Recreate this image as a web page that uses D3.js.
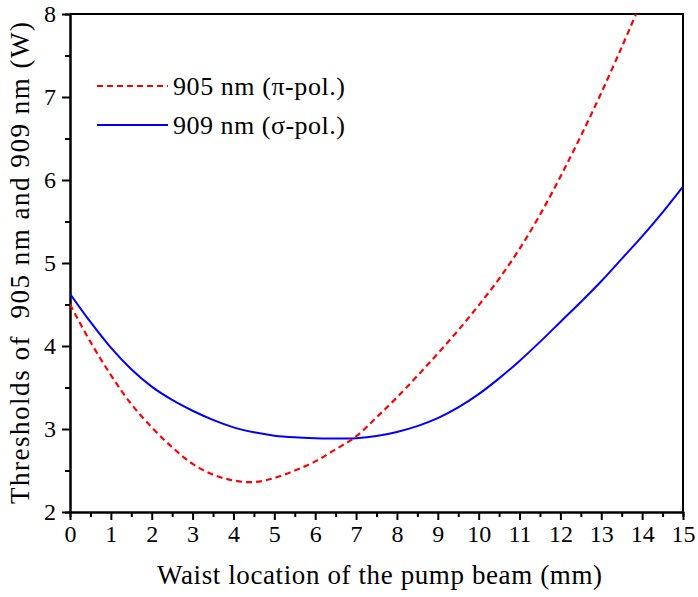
<!DOCTYPE html>
<html>
<head>
<meta charset="utf-8">
<script src="https://cdn.jsdelivr.net/npm/d3@7"></script>
<style>
  body { margin: 0; background: #fff; }
  text { font-family: "Liberation Serif", "Times New Roman", serif; fill: #000; }
</style>
</head>
<body>
<div id="chart"></div>
<script>
// waist location (mm) and thresholds (W)
const x905 = [0, 0.5, 1, 1.5, 2, 2.5, 3, 3.5, 4, 4.5, 5, 5.5, 6, 6.5, 7, 7.5, 8, 8.5, 9, 9.5, 10, 10.5, 11, 11.5, 12, 12.5, 13, 13.5, 13.85];
const y905 = [4.50, 4.05, 3.65, 3.30, 3.02, 2.78, 2.58, 2.45, 2.38, 2.36, 2.41, 2.50, 2.61, 2.755, 2.91, 3.14, 3.38, 3.64, 3.91, 4.19, 4.49, 4.81, 5.17, 5.58, 6.04, 6.53, 7.05, 7.60, 8.0];
const x909 = [0, 0.5, 1, 1.5, 2, 2.5, 3, 3.5, 4, 4.5, 5, 5.5, 6, 6.5, 7, 7.5, 8, 8.5, 9, 9.5, 10, 10.5, 11, 11.5, 12, 12.5, 13, 13.5, 14, 14.5, 15];
const y909 = [4.63, 4.29, 3.98, 3.72, 3.51, 3.35, 3.22, 3.11, 3.02, 2.96, 2.92, 2.90, 2.89, 2.885, 2.89, 2.915, 2.965, 3.035, 3.13, 3.26, 3.42, 3.61, 3.82, 4.05, 4.29, 4.53, 4.78, 5.05, 5.32, 5.61, 5.92];
const xTicks = d3.range(0, 16, 1);
const yTicks = [2, 3, 4, 5, 6, 7, 8];
const seriesNames = ["905 nm (\u03c0-pol.)", "909 nm (\u03c3-pol.)"];

let margin = {top: 14, right: 15, bottom: 85, left: 70},
    width = 698 - margin.left - margin.right,
    height = 597 - margin.top - margin.bottom;

let svg = d3.select("#chart")
    .append("svg")
    .attr("width", 698)
    .attr("height", 597)
    .append("g")
    .attr("transform", "translate(" + margin.left + "," + margin.top + ")");

let x = d3.scaleLinear().domain([0, 15]).range([0, width]);
let y = d3.scaleLinear().domain([2, 8]).range([height, 0]);

// minor ticks first, then major axes with labels
svg.append("g")
    .attr("transform", "translate(0," + height + ")")
    .call(d3.axisBottom(x).tickValues(d3.range(0.5, 15, 1)).tickSize(5).tickFormat(""));
svg.append("g")
    .call(d3.axisLeft(y).tickValues(d3.range(2.5, 8, 1)).tickSize(5).tickFormat(""));

let xAxis = svg.append("g")
    .attr("transform", "translate(0," + height + ")")
    .call(d3.axisBottom(x).tickValues(xTicks).tickSize(8).tickPadding(5).tickSizeOuter(0));
let yAxis = svg.append("g")
    .call(d3.axisLeft(y).tickValues(yTicks).tickFormat(d3.format("d")).tickSize(8).tickPadding(6).tickSizeOuter(0));

[xAxis, yAxis].forEach(a => {
    a.selectAll("text").style("font-size", "24px").attr("fill", "#000");
});
svg.selectAll(".tick line").attr("stroke", "#000").attr("stroke-width", 2);
svg.selectAll(".domain").attr("stroke", "#000").attr("stroke-width", 2);

// top and right frame
svg.append("path")
    .attr("d", "M0,0H" + width + "V" + height)
    .attr("fill", "none")
    .attr("stroke", "#000")
    .attr("stroke-width", 2);

svg.append("clipPath").attr("id", "clip")
    .append("rect").attr("width", width).attr("height", height);

let line = d3.line()
    .x(d => x(d[0]))
    .y(d => y(d[1]))
    .curve(d3.curveCatmullRom);

svg.append("path")
    .datum(d3.zip(x909, y909))
    .attr("clip-path", "url(#clip)")
    .attr("fill", "none")
    .attr("stroke", "#0000ff")
    .attr("stroke-width", 2)
    .attr("d", line);

svg.append("path")
    .datum(d3.zip(x905, y905))
    .attr("clip-path", "url(#clip)")
    .attr("fill", "none")
    .attr("stroke", "#ff0000")
    .attr("stroke-width", 2.2)
    .attr("stroke-dasharray", "6,4")
    .attr("d", line);

// legend
let legend = svg.append("g").attr("transform", "translate(27,72)");
[["#ff0000", "6,4"], ["#0000ff", null]].forEach((s, i) => {
    legend.append("line")
        .attr("x1", 0).attr("x2", 71)
        .attr("y1", i * 39).attr("y2", i * 39)
        .attr("stroke", s[0])
        .attr("stroke-width", 2)
        .attr("stroke-dasharray", s[1]);
    legend.append("text")
        .attr("x", 76)
        .attr("y", i * 39)
        .attr("dy", "0.33em")
        .attr("textLength", 172)
        .style("font-size", "26px")
        .text(seriesNames[i]);
});

// axis titles
svg.append("text")
    .attr("x", width / 2 + 3)
    .attr("y", height + 72)
    .attr("text-anchor", "middle")
    .attr("textLength", 445)
    .style("font-size", "27px")
    .text("Waist location of the pump beam (mm)");

svg.append("text")
    .attr("transform", "translate(-41," + (height / 2) + ") rotate(-90)")
    .attr("text-anchor", "middle")
    .attr("textLength", 482)
    .style("font-size", "27px")
    .style("white-space", "pre")
    .text("Thresholds of  905 nm and 909 nm (W)");
</script>
</body>
</html>
